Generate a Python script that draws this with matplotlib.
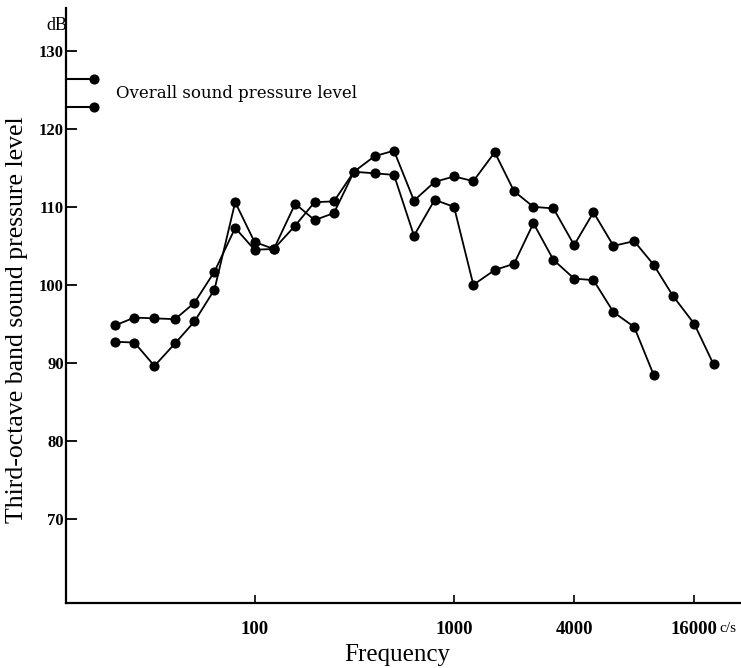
import matplotlib
matplotlib.use("Agg")
import matplotlib.pyplot as plt
import matplotlib.transforms as mtransforms

# ---- data ----
bands = [20, 25, 31.5, 40, 50, 63, 80, 100, 125, 160, 200, 250, 315, 400, 500,
         630, 800, 1000, 1250, 1600, 2000, 2500, 3150, 4000, 5000, 6300, 8000,
         10000, 12500, 16000, 20000]

series_a = [94.8, 95.8, 95.7, 95.6, 97.7, 101.7, 107.3, 104.5, 104.6, 110.4,
            108.3, 109.2, 114.5, 116.5, 117.2, 110.8, 113.2, 113.9, 113.3, 117.0,
            112.0, 110.0, 109.8, 105.1, 109.3, 105.0, 105.6, 102.6, 98.6, 95.0, 89.8]

series_b = [92.7, 92.6, 89.6, 92.5, 95.3, 99.4, 110.6, 105.5, 104.6, 107.6,
            110.6, 110.7, 114.5, 114.3, 114.1, 106.3, 110.9, 110.0, 100.0, 101.9,
            102.7, 107.9, 103.2, 100.8, 100.6, 96.5, 94.6, 88.5]

overall_levels = [126.4, 122.8]

x_ticks = [100, 1000, 4000, 16000]
x_tick_labels = ["100", "1000", "4000", "16000"]
y_ticks = [70, 80, 90, 100, 110, 120, 130]
y_tick_labels = ["70", "80", "90", "100", "110", "120", "130"]

# ---- figure ----
W, H = 741, 668
fig = plt.figure(figsize=(W / 100, H / 100), dpi=100)
ax = fig.add_axes([66 / W, 65 / H, (W - 66) / W, 595 / H])

serif = ["Liberation Serif", "DejaVu Serif"]
wide_serif = ["DejaVu Serif"]

line_kw = dict(color="black", lw=1.3, marker="o", ms=6.3, mfc="black", mec="black")
ax.plot(bands[:len(series_a)], series_a, **line_kw)
ax.plot(bands[:len(series_b)], series_b, **line_kw)

# overall level markers (drawn from the axis out)
trans = mtransforms.blended_transform_factory(ax.transAxes, ax.transData)
for lvl in overall_levels:
    ax.plot([0, 0.041], [lvl, lvl], color="black", lw=1.5, transform=trans,
            clip_on=False)
    ax.plot([0.041], [lvl], "o", color="black", ms=6.3, transform=trans,
            clip_on=False)
ax.text(0.074, (overall_levels[0] + overall_levels[1]) / 2, "Overall sound pressure level",
        transform=trans, fontsize=12.0, family=wide_serif, va="center", ha="left")

ax.set_xscale("log")
ax.set_xlim(11.35, 27450)
ax.set_ylim(59.2, 135.5)

ax.set_xticks(x_ticks)
ax.set_xticklabels(x_tick_labels)
ax.minorticks_off()
ax.set_yticks(y_ticks)
ax.set_yticklabels(y_tick_labels)

for s in ["top", "right"]:
    ax.spines[s].set_visible(False)
ax.spines["left"].set_linewidth(1.6)
ax.spines["bottom"].set_linewidth(1.6)

ax.tick_params(axis="x", direction="in", length=6, width=1.2, pad=13,
               labelsize=13.5)
ax.tick_params(axis="y", direction="in", length=8, width=1.3, pad=1.5,
               labelsize=12)
for lab in ax.get_xticklabels() + ax.get_yticklabels():
    lab.set_family(serif)
    lab.set_fontweight("bold")

fig.text(57 / W, 1 - 25 / H, "dB", fontsize=13, family=serif, ha="center",
         va="center")
fig.text(719 / W, 1 - 628 / H, "c/s", fontsize=11, family=serif, ha="left",
         va="center")
fig.text(17 / W, 1 - 320 / H, "Third-octave band sound pressure level",
         fontsize=18.5, family=serif, rotation=90, ha="center", va="center")
fig.text(397 / W, 1 - 655 / H, "Frequency", fontsize=18, family=serif,
         ha="center", va="center")

fig.savefig("out.png", dpi=100)
